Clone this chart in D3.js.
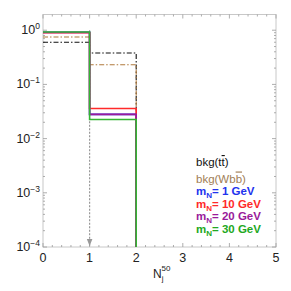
<!DOCTYPE html>
<html>
<head>
<meta charset="utf-8">
<script src="https://cdn.jsdelivr.net/npm/d3@7"></script>
<style>
  body { margin: 0; background: #fff; }
  svg { font-family: "Liberation Sans", Arial, sans-serif; }
</style>
</head>
<body>
<div id="chart"></div>
<script>
const width = 291, height = 291;
const margin = {top: 14.5, right: 15, bottom: 44, left: 43};

// bin lower edges and fractions per bin (0 = empty)
const binEdges = [0, 1, 2, 3, 4, 5];
const ttbar  = [0.60, 0.38, 0, 0, 0];
const wbb    = [0.75, 0.23, 0, 0, 0];
const mN1    = [0.92, 0.028, 0, 0, 0];
const mN10   = [0.90, 0.036, 0, 0, 0];
const mN20   = [0.91, 0.028, 0, 0, 0];
const mN30   = [0.93, 0.0225, 0, 0, 0];

const xTicks = [0, 1, 2, 3, 4, 5];
const yTicks = [1e-4, 1e-3, 1e-2, 1e-1, 1];

const series = [
  {name: "ttbar", values: ttbar, color: "#111", dash: "5,2,1.5,2", width: 1.1},
  {name: "wbb", values: wbb, color: "#b07a3c", dash: "5,2,1.5,2", width: 1.1},
  {name: "mN1", values: mN1, color: "#2233ee", dash: null, width: 1.6},
  {name: "mN10", values: mN10, color: "#ff2a2a", dash: null, width: 1.6},
  {name: "mN20", values: mN20, color: "#9a1a9a", dash: null, width: 1.6},
  {name: "mN30", values: mN30, color: "#33b533", dash: null, width: 1.6}
];

const legend = [
  {text: "bkg(t", bar: "t", tail: ")", color: "#111"},
  {text: "bkg(Wb", bar: "b", tail: ")", color: "#a07d55"},
  {sub: "1", color: "#2233ee"},
  {sub: "10", color: "#ff2a2a"},
  {sub: "20", color: "#9a1a9a"},
  {sub: "30", color: "#22a822"}
];

const svg = d3.select("#chart").append("svg")
  .attr("width", width).attr("height", height);

const x = d3.scaleLinear().domain([0, 5])
  .range([margin.left, width - margin.right]);
const y = d3.scaleLog().domain([1e-4, 1.95])
  .range([height - margin.bottom, margin.top]);

const frameColor = "#c8c8c8", tickColor = "#999";

// frame
svg.append("rect")
  .attr("x", x(0)).attr("y", y.range()[1])
  .attr("width", x(5) - x(0)).attr("height", y.range()[0] - y.range()[1])
  .attr("fill", "none").attr("stroke", frameColor).attr("stroke-width", 1);

// x ticks, bottom and top
const xMinor = d3.range(0, 5.001, 0.2);
xMinor.forEach(v => {
  const major = Math.abs(v - Math.round(v)) < 1e-6;
  const len = major ? 4 : 2;
  svg.append("line").attr("x1", x(v)).attr("x2", x(v))
    .attr("y1", y.range()[0]).attr("y2", y.range()[0] - len)
    .attr("stroke", tickColor).attr("stroke-width", 0.8);
  svg.append("line").attr("x1", x(v)).attr("x2", x(v))
    .attr("y1", y.range()[1]).attr("y2", y.range()[1] + len)
    .attr("stroke", tickColor).attr("stroke-width", 0.8);
});

// y ticks, left and right
const yMinor = [];
for (let e = -4; e <= 0; e++) {
  for (let m = 1; m <= 9; m++) {
    const v = m * Math.pow(10, e);
    if (v <= 1.95) yMinor.push({v: v, major: m === 1});
  }
}
yMinor.forEach(t => {
  const len = t.major ? 4 : 2;
  svg.append("line").attr("x1", x(0)).attr("x2", x(0) + len)
    .attr("y1", y(t.v)).attr("y2", y(t.v))
    .attr("stroke", tickColor).attr("stroke-width", 0.8);
  svg.append("line").attr("x1", x(5)).attr("x2", x(5) - len)
    .attr("y1", y(t.v)).attr("y2", y(t.v))
    .attr("stroke", tickColor).attr("stroke-width", 0.8);
});

// tick labels
svg.append("g").selectAll("text").data(xTicks).join("text")
  .attr("x", d => x(d)).attr("y", y.range()[0] + 15)
  .attr("text-anchor", "middle").attr("font-size", 12.5).attr("fill", "#222")
  .text(d => d);

const yl = svg.append("g").selectAll("text").data(yTicks).join("text")
  .attr("x", x(0) - 3).attr("y", d => y(d) + 4)
  .attr("text-anchor", "end").attr("font-size", 12.5).attr("fill", "#222");
yl.append("tspan").text("10");
yl.append("tspan").attr("dy", -5).attr("font-size", 8.5)
  .text(d => { const e = Math.round(Math.log10(d)); return e < 0 ? "\u2212" + (-e) : e; });

// axis title
const xt = svg.append("text").attr("x", 153).attr("y", 278)
  .attr("font-size", 12).attr("fill", "#222");
xt.append("tspan").text("N");
xt.append("tspan").attr("dy", 3).attr("font-size", 8).text("j");
xt.append("tspan").attr("dx", -2).attr("dy", -10).attr("font-size", 8).text("50");

// clip
svg.append("clipPath").attr("id", "clip").append("rect")
  .attr("x", x(0)).attr("y", y.range()[1])
  .attr("width", x(5) - x(0)).attr("height", y.range()[0] - y.range()[1]);

// arrow marker
svg.append("defs").append("marker").attr("id", "arrow")
  .attr("viewBox", "0 0 10 10").attr("refX", 10).attr("refY", 5)
  .attr("markerWidth", 6).attr("markerHeight", 8).attr("orient", "auto")
  .append("path").attr("d", "M0,1 L10,5 L0,9 Z").attr("fill", "#999");

svg.append("line").attr("x1", x(1)).attr("x2", x(1))
  .attr("y1", y(1)).attr("y2", y.range()[0] - 1)
  .attr("stroke", "#999").attr("stroke-width", 1.2)
  .attr("stroke-dasharray", "2,1.5").attr("marker-end", "url(#arrow)");

// histogram steps
const floor = 1e-5;
const line = d3.line()
  .x(d => x(d[0])).y(d => y(Math.max(d[1], floor)))
  .curve(d3.curveStepAfter);

const g = svg.append("g").attr("clip-path", "url(#clip)");
series.forEach(s => {
  const pts = s.values.map((v, i) => [binEdges[i], v]);
  g.append("path").datum(pts.slice(0, 3))
    .attr("d", line).attr("fill", "none")
    .attr("stroke", s.color).attr("stroke-width", s.width)
    .attr("stroke-dasharray", s.dash);
});

// legend
const lx = 196;
const ly = [166, 182.5, 195, 207.5, 220, 232.5];
legend.forEach((l, i) => {
  const t = svg.append("text").attr("x", lx).attr("y", ly[i])
    .attr("font-size", 11.5).attr("fill", l.color);
  if (l.sub === undefined) {
    t.append("tspan").text(l.text);
    t.append("tspan").attr("text-decoration", "overline").text(l.bar);
    t.append("tspan").text(l.tail);
  } else {
    t.attr("font-weight", "bold");
    t.append("tspan").text("m");
    t.append("tspan").attr("dy", 3).attr("font-size", 8).text("N");
    t.append("tspan").attr("dy", -3).text("= " + l.sub + " GeV");
  }
});
</script>
</body>
</html>
